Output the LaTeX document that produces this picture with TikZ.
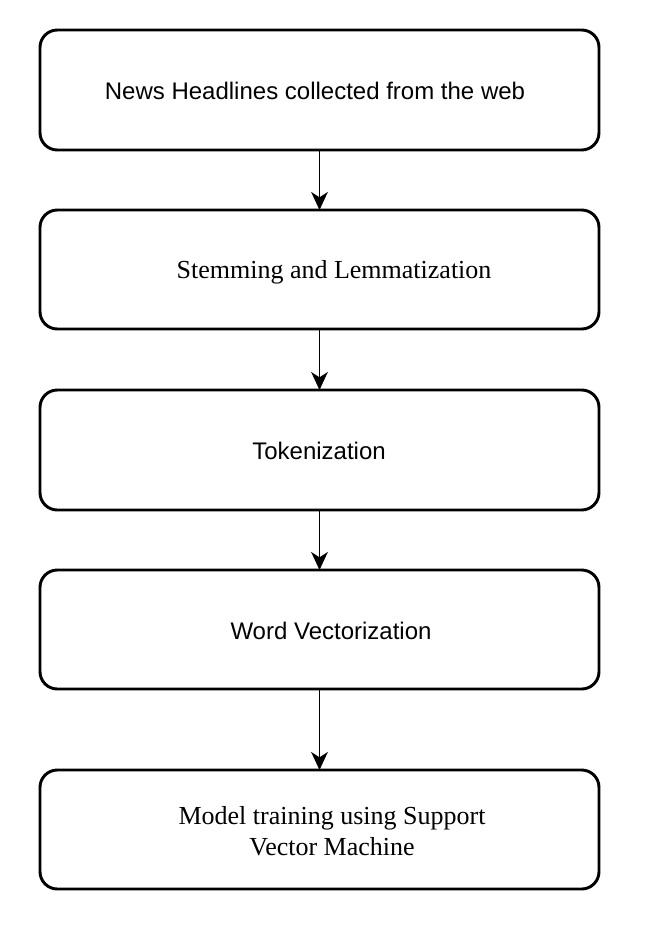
\documentclass[tikz,border=0pt]{standalone}
\usepackage{fontspec}
\setmainfont{Liberation Serif}
\newfontfamily\arialf{Liberation Sans}
\usetikzlibrary{arrows.meta}
\begin{document}
\begin{tikzpicture}[x=0.75pt,y=-0.75pt,
  stepbox/.style={draw=black,line width=2.2pt,rounded corners=13pt},
  lbl/.style={align=center,inner sep=0pt},
  sanslbl/.style={lbl,font=\arialf\fontsize{18}{22}\selectfont},
  seriflbl/.style={lbl,font=\fontsize{19.5}{23.25}\selectfont},
  conn/.style={line width=1pt,-{Stealth[length=13.5pt,width=12.5pt,inset=4pt]}}]
\useasboundingbox (0,0) rectangle (653,925);
\draw[stepbox] (40,30) rectangle (599,150);
\draw[stepbox] (40,210) rectangle (599,329);
\draw[stepbox] (40,390) rectangle (599,510);
\draw[stepbox] (40,570) rectangle (599,689);
\draw[stepbox] (40,770) rectangle (599,889);
\coordinate (b1) at (319.5,150); \coordinate (t2) at (319.5,210);
\coordinate (b2) at (319.5,329); \coordinate (t3) at (319.5,390);
\coordinate (b3) at (319.5,510); \coordinate (t4) at (319.5,570);
\coordinate (b4) at (319.5,689); \coordinate (t5) at (319.5,770);
\node[sanslbl] (n1) at (315,91) {News Headlines collected from the web};
\node[seriflbl] (n2) at (334,272.5) {Stemming and Lemmatization};
\node[sanslbl] (n3) at (319,451) {Tokenization};
\node[sanslbl] (n4) at (331,631) {Word Vectorization};
\node[seriflbl] (n5) at (332,831) {Model training using Support\\Vector Machine};
\draw[conn] (b1) -- (t2);
\draw[conn] (b2) -- (t3);
\draw[conn] (b3) -- (t4);
\draw[conn] (b4) -- (t5);
\end{tikzpicture}
\end{document}
